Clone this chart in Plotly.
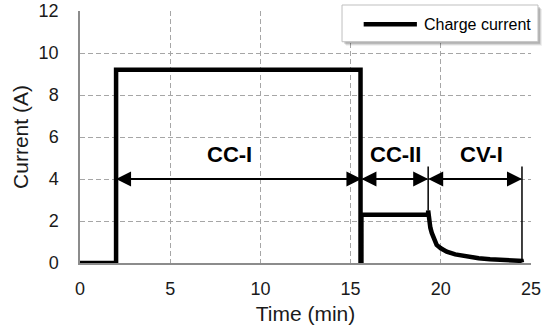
import plotly.graph_objects as go

# Charge current profile (time in minutes, current in amperes)
time_min = [0, 2.0, 2.0, 15.55, 15.55, 15.6, 15.6, 19.3, 19.3, 19.36, 19.42, 19.5, 19.62,
            19.77, 20.0, 20.33, 20.8, 21.44, 22.1, 22.73, 23.5, 24.48, 24.5]
current_a = [0, 0, 9.2, 9.2, 0, 0, 2.3, 2.3, 2.5, 1.97, 1.68, 1.43, 1.12,
             0.86, 0.7, 0.54, 0.41, 0.3, 0.23, 0.18, 0.14, 0.1, 0.02]

# Charging stages: label, start, end
stage_labels = ["CC-I", "CC-II", "CV-I"]
stage_start = [2.0, 15.6, 19.3]
stage_end = [15.6, 19.3, 24.5]
stage_label_x = [8.3, 17.5, 22.25]
arrow_y = 4.0
label_y = 5.15

x_ticks = [0, 5, 10, 15, 20, 25]
y_ticks = [0, 2, 4, 6, 8, 10, 12]

FONT = "Liberation Sans, Arial, sans-serif"
TEXT = "#1a1a1a"

fig = go.Figure()
fig.add_trace(go.Scatter(
    x=time_min, y=current_a, mode="lines", name="Charge current",
    line=dict(color="black", width=4.5), cliponaxis=False, showlegend=False,
))

# Double-headed arrows spanning each stage
for s, e in zip(stage_start, stage_end):
    for tip, tail in ((s, e), (e, s)):
        fig.add_annotation(
            x=tip, y=arrow_y, ax=tail, ay=arrow_y, xref="x", yref="y",
            axref="x", ayref="y", showarrow=True, arrowhead=2, arrowsize=1.5,
            arrowwidth=2, arrowcolor="black", text="",
        )

for lab, lx in zip(stage_labels, stage_label_x):
    fig.add_annotation(
        x=lx, y=label_y, xref="x", yref="y", text="<b>%s</b>" % lab,
        showarrow=False, font=dict(family=FONT, size=22, color="black"),
    )

# Thin boundary markers at the stage transitions
fig.add_shape(type="line", xref="x", yref="y", x0=19.3, x1=19.3, y0=2.5, y1=4.6,
              line=dict(color="black", width=1.5))
fig.add_shape(type="line", xref="x", yref="y", x0=24.5, x1=24.5, y0=0.05, y1=4.6,
              line=dict(color="black", width=1.5))

# Legend box with a soft drop shadow
PW, PH = 451, 252
lx0, lx1, ly0, ly1 = 0.581, 1.0155, 0.878, 1.0238
for off, col in ((4, "rgba(0,0,0,0.07)"), (3, "rgba(0,0,0,0.11)"), (2, "rgba(0,0,0,0.16)")):
    fig.add_shape(type="rect", xref="paper", yref="paper",
                  x0=lx0 + off / PW, x1=lx1 + off / PW,
                  y0=ly0 - off / PH, y1=ly1 - off / PH,
                  line=dict(width=0), fillcolor=col, layer="above")
fig.add_shape(type="rect", xref="paper", yref="paper", x0=lx0, x1=lx1, y0=ly0, y1=ly1,
              line=dict(color="#bfbfbf", width=1), fillcolor="white", layer="above")
fig.add_shape(type="line", xref="paper", yref="paper", x0=0.629, x1=0.747,
              y0=0.947, y1=0.947, line=dict(color="black", width=4.5), layer="above")
fig.add_annotation(x=0.7577, y=0.947, xref="paper", yref="paper", text="Charge current",
                   showarrow=False, xanchor="left", yanchor="middle",
                   font=dict(family=FONT, size=16, color="black"))

axis_common = dict(
    showgrid=True, gridcolor="#a6a6a6", griddash="5px,3px", gridwidth=1,
    showline=True, linecolor="#8c8c8c", linewidth=1.5, zeroline=False,
    ticks="", tickfont=dict(family=FONT, size=18, color=TEXT), automargin=False,
)
fig.update_xaxes(range=[0, 25], tickvals=x_ticks, ticklabelstandoff=9,
                 title=dict(text="Time (min)", font=dict(family=FONT, size=21, color=TEXT),
                            standoff=8),
                 **axis_common)
fig.update_yaxes(range=[0, 12], tickvals=y_ticks, ticklabelstandoff=16,
                 title=dict(text="Current (A)", font=dict(family=FONT, size=21, color=TEXT),
                            standoff=4),
                 **axis_common)

fig.update_layout(
    width=547, height=334, margin=dict(l=80, r=16, t=11, b=71),
    paper_bgcolor="white", plot_bgcolor="white",
    font=dict(family=FONT), showlegend=False,
)

fig.write_html("out.html")
